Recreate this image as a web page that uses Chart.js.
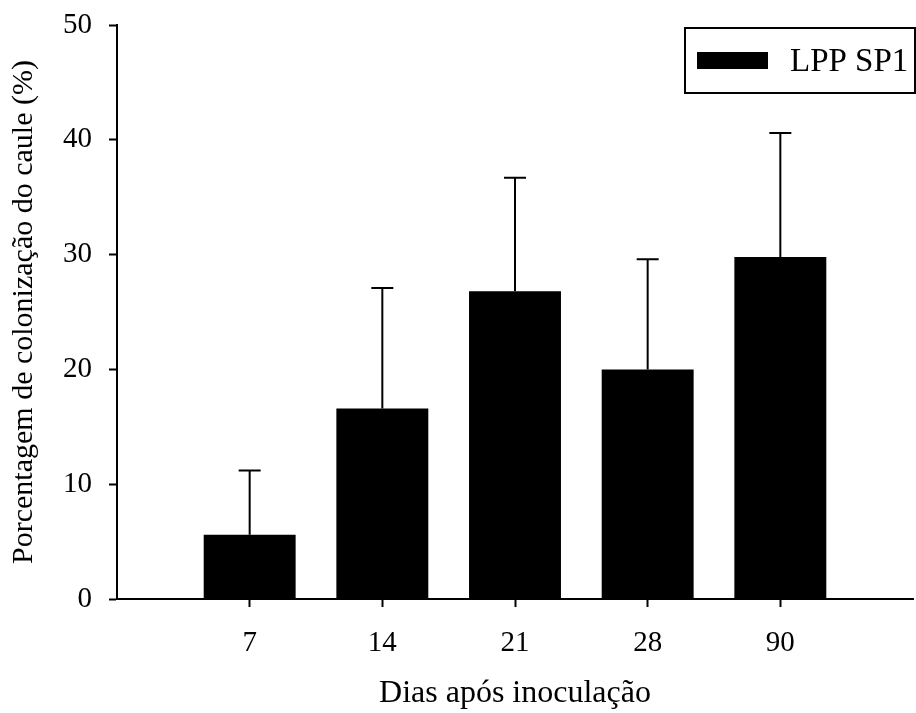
<!DOCTYPE html>
<html>
<head>
<meta charset="utf-8">
<title>Colonização do caule</title>
<script src="https://cdn.jsdelivr.net/npm/chart.js@4.4.1/dist/chart.umd.min.js"></script>
<style>
	html, body { margin: 0; padding: 0; background: #fff; }
	#wrap { width: 916px; height: 713px; }
</style>
</head>
<body>
<div id="wrap"><canvas id="myChart" width="916" height="713"></canvas></div>
<script>
//Chart data
var days = ['7', '14', '21', '28', '90'];
var colonization = [5.6, 16.6, 26.8, 20.0, 29.8];
var colonizationErr = [5.6, 10.5, 9.9, 9.6, 10.8];
var yTicks = [0, 10, 20, 30, 40, 50];
var seriesName = 'LPP SP1';

var serif = "'Liberation Serif', 'Times New Roman', serif";

// one empty slot each side, so the axis runs past the first and last bar
var xLabels = [''].concat(days, ['']);
var yValues = [null].concat(colonization, [null]);
var yErrors = [null].concat(colonizationErr, [null]);

//draws the upper error bar of every bar
var errorBarPlugin = {
	id: 'errorBars',
	afterDatasetsDraw: function(chart) {
		var ctx = chart.ctx;
		var yScale = chart.scales.y;
		var meta = chart.getDatasetMeta(0);
		ctx.save();
		ctx.strokeStyle = '#000';
		ctx.lineWidth = 2;
		meta.data.forEach(function(bar, i) {
			var v = yValues[i];
			var e = yErrors[i];
			if (v == null || e == null) return;
			var yTop = yScale.getPixelForValue(v + e);
			ctx.beginPath();
			ctx.moveTo(bar.x, bar.y);
			ctx.lineTo(bar.x, yTop);
			ctx.moveTo(bar.x - 11, yTop);
			ctx.lineTo(bar.x + 11, yTop);
			ctx.stroke();
		});
		ctx.restore();
	}
};

//legend in a box at the top right of the plot
var boxLegendPlugin = {
	id: 'boxLegend',
	afterDraw: function(chart) {
		var ctx = chart.ctx;
		var area = chart.chartArea;
		var w = 230, h = 65;
		var x = area.right + 2 - w;
		var y = area.top + 3;
		ctx.save();
		ctx.strokeStyle = '#000';
		ctx.lineWidth = 2;
		ctx.strokeRect(x, y, w, h);
		ctx.fillStyle = '#000';
		ctx.fillRect(x + 12, y + 24, 71, 17);
		ctx.font = '33px ' + serif;
		ctx.textBaseline = 'alphabetic';
		ctx.textAlign = 'left';
		ctx.fillText(chart.data.datasets[0].label, x + 105, y + 43);
		ctx.restore();
	}
};

function tickColor(c) {
	return c.tick && c.tick.label !== '' ? '#000' : 'rgba(0,0,0,0)';
}

function loadColonizationChart() {
	var ctx = document.getElementById('myChart');
	var myChart = new Chart(ctx, {
		type: 'bar',
		data: {
			labels: xLabels,
			datasets: [{
				label: seriesName,
				data: yValues,
				backgroundColor: '#000',
				borderWidth: 0,
				barPercentage: 0.693,
				categoryPercentage: 1
			}]
		},
		options: {
			responsive: false,
			animation: false,
			devicePixelRatio: 1,
			layout: { padding: { top: 25, right: 3, bottom: 0, left: 0 } },
			plugins: {
				legend: { display: false },
				tooltip: { enabled: false }
			},
			scales: {
				x: {
					offset: false,
					border: { display: true, color: '#000', width: 2 },
					grid: {
						offset: false,
						drawOnChartArea: false,
						drawTicks: true,
						tickLength: 8,
						tickWidth: 2,
						tickColor: tickColor
					},
					ticks: {
						color: '#000',
						padding: 19,
						maxRotation: 0,
						autoSkip: false,
						font: { family: serif, size: 29 }
					},
					title: {
						display: true,
						text: 'Dias após inoculação',
						color: '#000',
						padding: { top: 0, bottom: 3 },
						font: { family: serif, size: 32, lineHeight: 1 }
					},
					afterFit: function(scale) {
						scale.height = 114;
						scale.paddingLeft = 0;
						scale.paddingRight = 0;
					}
				},
				y: {
					min: yTicks[0],
					max: yTicks[yTicks.length - 1],
					afterBuildTicks: function(scale) {
						scale.ticks = yTicks.map(function(v) { return { value: v }; });
					},
					border: { display: true, color: '#000', width: 2 },
					grid: {
						drawOnChartArea: false,
						drawTicks: true,
						tickLength: 8,
						tickWidth: 2,
						tickColor: '#000'
					},
					ticks: {
						color: '#000',
						padding: 17,
						font: { family: serif, size: 29 }
					},
					title: {
						display: true,
						text: 'Porcentagem de colonização do caule (%)',
						color: '#000',
						padding: { top: 9, bottom: 0 },
						font: { family: serif, size: 30, lineHeight: 1 }
					},
					afterFit: function(scale) {
						scale.width = 117;
						scale.paddingTop = 0;
						scale.paddingBottom = 0;
					}
				}
			}
		},
		plugins: [errorBarPlugin, boxLegendPlugin]
	});
	return myChart;
}

loadColonizationChart();
</script>
</body>
</html>
